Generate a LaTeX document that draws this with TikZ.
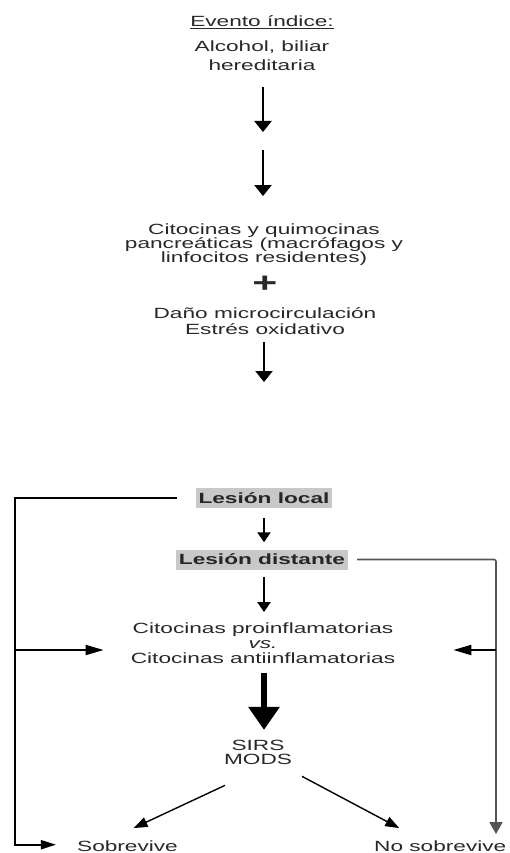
\documentclass[tikz,border=0pt]{standalone}
\usepackage{fontspec}
\setmainfont{Liberation Sans}[FakeStretch=1.53]
\usetikzlibrary{arrows.meta,positioning,calc}
\definecolor{lesiongray}{RGB}{200,200,200}
\definecolor{inkgray}{RGB}{40,40,40}
\definecolor{railgray}{RGB}{85,85,85}

\begin{document}
\begin{tikzpicture}[x=1pt,y=-1pt,
  txt/.style={align=center,inner sep=0pt,text=inkgray,font=\fontsize{14.8}{14}\selectfont},
  lesion/.style={fill=lesiongray,inner xsep=3pt,inner ysep=0pt,minimum height=20pt,text=black!85,font=\fontsize{14.8}{14}\selectfont\bfseries},
  arr/.style={-{Triangle[length=11pt,width=17pt]},line width=2.3pt},
  arrsm/.style={-{Triangle[length=10pt,width=13pt]},line width=2.2pt},
  arrbig/.style={-{Triangle[length=23pt,width=30pt]},line width=6.5pt},
  thin/.style={-{Triangle[length=14pt,width=10pt]},line width=1.4pt},
  rail/.style={line width=1.9pt},
  railr/.style={line width=1.6pt,draw=railgray}
]
\useasboundingbox (0,0) rectangle (509,853);

% evento indice
\node[txt,anchor=base] (evt) at (262,27) {\underline{Evento índice:}};
\node[txt,anchor=base,font=\fontsize{14.8}{19}\selectfont] (alc) at (262,71) {Alcohol, biliar\\hereditaria};
\coordinate (gapA) at (263,132);
\coordinate (gapB) at (263,150);
\draw[arr,shorten <=16pt] (alc.south -| gapA) -- (gapA);

% citocinas pancreaticas
\node[txt,anchor=base] (cit) at (264,262) {Citocinas y quimocinas\\pancreáticas (macrófagos y\\linfocitos residentes)};
\draw[arr,shorten >=27pt] (gapB) -- (gapB |- cit.north);
\node[txt,font=\fontsize{28}{28}\selectfont\bfseries] (plus) at (265,284) {+};
\node[txt,anchor=base,font=\fontsize{14.8}{16}\selectfont] (dano) at (265,334) {Daño microcirculación\\Estrés oxidativo};
\coordinate (gapC) at (264,382);
\draw[arr,shorten <=8pt] (dano.south -| gapC) -- (gapC);

% lesion
\node[lesion] (loc) at (264,498) {Lesión local};
\node[lesion] (dist) at (262,559.5) {Lesión distante};
\draw[arrsm,shorten <=10pt,shorten >=7pt] (loc) -- (loc |- dist.north);
\node[txt,anchor=base,font=\fontsize{14.8}{15}\selectfont] (cit2) at (263,663) {Citocinas proinflamatorias\\\textit{vs.}\\Citocinas antiinflamatorias};
\draw[arrsm,shorten <=7pt,shorten >=10pt] (dist.south -| loc) -- (loc |- cit2.north);

% sirs
\node[txt,anchor=base,font=\fontsize{14.8}{13.5}\selectfont] (sirs) at (258,764) {SIRS\\MODS};
\draw[arrbig,shorten <=10pt,shorten >=10pt] (cit2.south -| loc) -- (loc |- sirs.north);
\node[txt,anchor=base] (sob) at (127.5,851) {Sobrevive};
\node[txt,anchor=base west] (nosob) at (374,851) {No sobrevive};
\draw[thin] ([xshift=-33pt,yshift=-21pt]sirs.south) -- ([xshift=6pt,yshift=12pt]sob.north);
\draw[thin] ([xshift=44pt,yshift=-12pt]sirs.south) -- ([xshift=-41pt,yshift=12pt]nosob.north);

% rieles laterales
\coordinate (leftrail) at (15,650);
\coordinate (rightrail) at (496,650);
\draw[rail] ([xshift=-18pt]loc.west) -| (leftrail);
\draw[rail,-{Triangle[length=15pt,width=9pt]}] (leftrail) |- ([xshift=-21pt,yshift=1pt]sob.west);
\draw[rail,-{Triangle[length=18pt,width=10pt]},shorten >=27pt] (leftrail) -- (leftrail -| cit2.west);
\draw[railr,rounded corners=2pt] ([xshift=9pt]dist.east) -| (rightrail);
\draw[railr,-{Triangle[length=12pt,width=13pt]},shorten >=6pt] (rightrail) -- (rightrail |- nosob.north);
\draw[rail,-{Triangle[length=18pt,width=10pt]},shorten >=58pt] (rightrail) -- (rightrail -| cit2.east);
\end{tikzpicture}
\end{document}
